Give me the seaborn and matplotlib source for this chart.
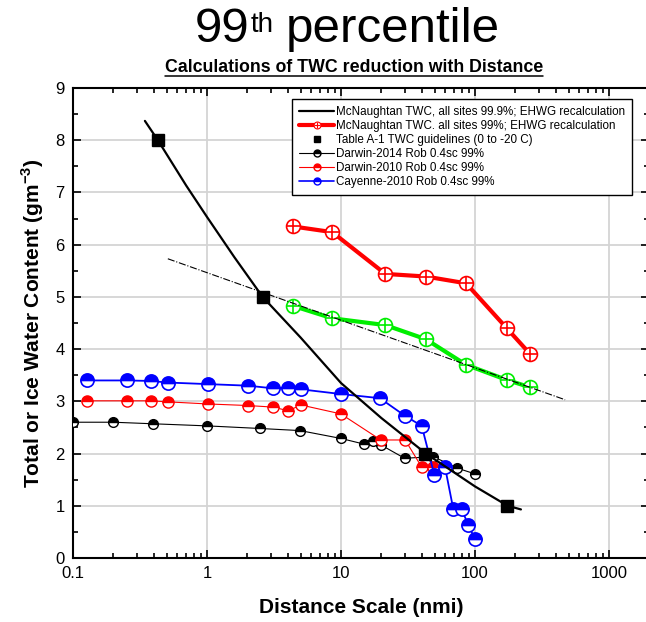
import matplotlib
matplotlib.use("Agg")
import matplotlib.pyplot as plt
import seaborn as sns
import numpy as np
import pandas as pd
from matplotlib.lines import Line2D
from matplotlib.ticker import (LogLocator, MultipleLocator, FixedLocator,
                               NullFormatter, FixedFormatter)

# ---------------- data ----------------
mcn999_x = [0.344, 0.43, 0.7, 1.0, 1.6, 2.6, 5.0, 10, 20, 43, 100, 175, 220]
mcn999_y = [8.37, 8.0, 7.13, 6.53, 5.76, 5.0, 4.22, 3.35, 2.68, 2.0, 1.37, 1.0, 0.93]

table_x = [0.43, 2.6, 42, 174]
table_y = [8.0, 5.0, 2.0, 1.0]

trend_x = [0.51, 470]
trend_y = [5.73, 3.03]

mcn99_x = [4.35, 8.6, 21.4, 42.9, 85.7, 172.5, 257]
mcn99_red_y = [6.35, 6.24, 5.44, 5.39, 5.26, 4.40, 3.91]
mcn99_green_y = [4.83, 4.59, 4.46, 4.19, 3.70, 3.41, 3.27]

cay_x = [0.128, 0.252, 0.382, 0.509, 1.01, 2.01, 3.09, 4.05, 5.02, 9.96, 19.5,
         30.1, 40, 49.7, 59.7, 68.9, 79.6, 89.1, 100]
cay_y = [3.40, 3.40, 3.39, 3.36, 3.33, 3.30, 3.25, 3.26, 3.23, 3.14, 3.06,
         2.72, 2.53, 1.59, 1.74, 0.93, 0.93, 0.63, 0.36]

d10_x = [0.128, 0.252, 0.382, 0.509, 1.01, 2.01, 3.09, 4.05, 5.02, 9.96, 19.8,
         30.1, 40, 48.9]
d10_y = [3.01, 3.01, 3.01, 2.99, 2.95, 2.92, 2.89, 2.82, 2.93, 2.76, 2.26,
         2.26, 1.74, 1.75]

d14_x = [0.1, 0.2, 0.397, 1.0, 2.49, 4.94, 9.96, 14.9, 17.4, 20.0, 29.8, 48.9,
         73.8, 100]
d14_y = [2.60, 2.60, 2.57, 2.53, 2.48, 2.44, 2.29, 2.18, 2.24, 2.16, 1.91, 1.94,
         1.72, 1.61]

x_ticks = [0.1, 1, 10, 100, 1000]
x_tick_labels = ["0.1", "1", "10", "100", "1000"]

labels = ["McNaughtan TWC, all sites 99.9%; EHWG recalculation",
          "McNaughtan TWC. all sites 99%; EHWG recalculation",
          "Table A-1 TWC guidelines (0 to -20 C)",
          "Darwin-2014 Rob 0.4sc 99%",
          "Darwin-2010 Rob 0.4sc 99%",
          "Cayenne-2010 Rob 0.4sc 99%"]

# ---------------- style ----------------
sns.set_theme(style="ticks")
plt.rcParams["font.family"] = ["Liberation Sans", "DejaVu Sans"]
plt.rcParams["mathtext.fontset"] = "custom"
plt.rcParams["mathtext.rm"] = "Liberation Sans"
plt.rcParams["mathtext.bf"] = "Liberation Sans:bold"
for k in ["text.color", "axes.labelcolor", "xtick.color", "ytick.color",
          "axes.edgecolor"]:
    plt.rcParams[k] = "black"

W, H = 646, 622
fig = plt.figure(figsize=(W / 100, H / 100), dpi=100)
ax = fig.add_axes([73 / W, 1 - 558 / H, (649.4 - 73) / W, 470 / H])


def lp(x, y, **kw):
    sns.lineplot(x=x, y=y, ax=ax, estimator=None, sort=False, legend=False, **kw)


# Darwin-2014 (black half circles)
lp(d14_x, d14_y, color="black", lw=0.8, marker="o", markersize=7,
   fillstyle="top", markerfacecoloralt="white", markeredgecolor="black",
   markeredgewidth=1.0, zorder=3)
# Darwin-2010 (red half circles)
lp(d10_x, d10_y, color="red", lw=0.8, marker="o", markersize=8,
   fillstyle="top", markerfacecoloralt="white", markeredgecolor="red",
   markeredgewidth=1.0, zorder=4)
# Cayenne-2010 (blue half circles)
lp(cay_x, cay_y, color="blue", lw=1.3, marker="o", markersize=9.5,
   fillstyle="top", markerfacecoloralt="white", markeredgecolor="blue",
   markeredgewidth=1.2, zorder=5)

# McNaughtan 99% red and green
for yy, c in [(mcn99_red_y, "red"), (mcn99_green_y, "#00ee00")]:
    lp(mcn99_x, yy, color=c, lw=3, marker="o", markersize=10,
       markerfacecolor="white", markeredgecolor=c, markeredgewidth=1.2, zorder=6)
    ax.plot(mcn99_x, yy, ls="none", marker="+", markersize=10,
            markeredgecolor=c, markeredgewidth=1.2, zorder=6.5)

# dash-dot trend
lp(trend_x, trend_y, color="black", lw=0.8, linestyle="-.", zorder=7)

# McNaughtan 99.9% curve
lp(mcn999_x, mcn999_y, color="black", lw=1.6, zorder=8)
# Table A-1 squares
ax.plot(table_x, table_y, ls="none", marker="s", markersize=9, color="black", zorder=9)

# ---------------- axes ----------------
ax.set_xscale("log")
ax.set_xlim(0.1, 2000)
ax.set_ylim(0, 9)
ax.xaxis.set_major_locator(FixedLocator(x_ticks))
ax.xaxis.set_major_formatter(FixedFormatter(x_tick_labels))
ax.xaxis.set_minor_locator(LogLocator(base=10, subs=np.arange(2, 10)))
ax.xaxis.set_minor_formatter(NullFormatter())
ax.yaxis.set_major_locator(MultipleLocator(1))
ax.yaxis.set_minor_locator(MultipleLocator(0.5))
ax.tick_params(which="both", direction="in", top=True, right=True,
               labelsize=12, width=1.2, colors="black", pad=6)
ax.tick_params(which="major", length=6)
ax.tick_params(which="minor", length=3.5)
ax.grid(True, which="major", color="#d4d4d4", lw=1.3)
ax.set_axisbelow(True)
for s in ax.spines.values():
    s.set_linewidth(1.5)
    s.set_color("black")

ax.set_xlabel("Distance Scale (nmi)", fontsize=15, fontweight="bold", labelpad=12)
ax.set_ylabel("Total or Ice Water Content (gm$^{\\mathbf{-3}}$)", fontsize=15,
              fontweight="bold", labelpad=7)

# ---------------- legend ----------------
h1 = Line2D([], [], color="black", lw=1.6)
h2a = Line2D([], [], color="red", lw=3, marker="o", markersize=5,
             markerfacecolor="white", markeredgecolor="red", markeredgewidth=0.8)
h2b = Line2D([], [], ls="none", marker="+", markersize=5, markeredgecolor="red",
             markeredgewidth=0.8)
h3 = Line2D([], [], ls="none", marker="s", markersize=5, color="black")
h4 = Line2D([], [], color="black", lw=0.8, marker="o", markersize=5, fillstyle="top",
            markerfacecoloralt="white", markeredgecolor="black")
h5 = Line2D([], [], color="red", lw=0.8, marker="o", markersize=5, fillstyle="top",
            markerfacecoloralt="white", markeredgecolor="red")
h6 = Line2D([], [], color="blue", lw=1.2, marker="o", markersize=5, fillstyle="top",
            markerfacecoloralt="white", markeredgecolor="blue")
leg = ax.legend([h1, (h2a, h2b), h3, h4, h5, h6], labels, loc="upper right",
                bbox_to_anchor=(0.970, 0.977), fontsize=8.4, frameon=True,
                fancybox=False, edgecolor="black", framealpha=1, handlelength=3.0,
                handletextpad=0.15, borderpad=0.6, labelspacing=0.18,
                borderaxespad=0, numpoints=1)
leg.get_frame().set_linewidth(1.0)
leg.set_zorder(20)

# ---------------- titles ----------------
fig.canvas.draw()
r = fig.canvas.get_renderer()
base = 1 - 42 / H
t1 = fig.text(195 / W, base, "99", fontsize=35.5, va="baseline", ha="left")
bb1 = t1.get_window_extent(r)
t2 = fig.text(bb1.x1 / W + 1 / W, 1 - 32 / H, "th", fontsize=20, va="baseline", ha="left")
bb2 = t2.get_window_extent(r)
fig.text(bb2.x1 / W + 12 / W, base, "percentile", fontsize=35.5, va="baseline", ha="left")

sub = fig.text(354 / W, 1 - 72 / H, "Calculations of TWC reduction with Distance",
               fontsize=12.8, fontweight="bold", ha="center", va="baseline")
bbs = sub.get_window_extent(r)
yline = 1 - 75.5 / H
fig.add_artist(Line2D([bbs.x0 / W, bbs.x1 / W], [yline, yline], color="black",
                      lw=1.1, transform=fig.transFigure))

fig.savefig("out.png", dpi=100)
